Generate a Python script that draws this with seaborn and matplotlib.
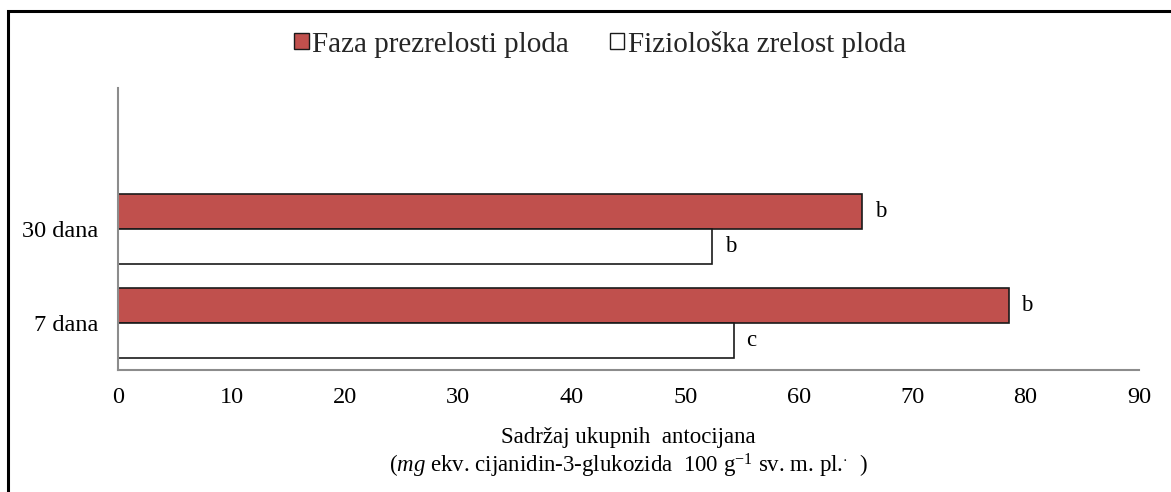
import matplotlib
matplotlib.use("Agg")
import matplotlib.pyplot as plt
import seaborn as sns
import pandas as pd
from matplotlib.patches import Rectangle, Patch

# Data
categories = ["30 dana", "7 dana"]
series_names = ["Faza prezrelosti ploda", "Fiziološka zrelost ploda"]
prezrelost = [65.6, 78.5]
zrelost = [52.4, 54.3]
letters_prezrelost = ["b", "b"]
letters_zrelost = ["b", "c"]
x_ticks = [0, 10, 20, 30, 40, 50, 60, 70, 80, 90]

sns.set_theme(style="white")
plt.rcParams["font.family"] = ["Liberation Serif", "DejaVu Serif"]
plt.rcParams["mathtext.fontset"] = "custom"
plt.rcParams["mathtext.rm"] = "Liberation Serif"
plt.rcParams["mathtext.it"] = "Liberation Serif:italic"

df = pd.DataFrame({
    "cat": categories * 2,
    "series": [series_names[0]] * 2 + [series_names[1]] * 2,
    "value": prezrelost + zrelost,
})

fig = plt.figure(figsize=(11.71, 4.92), dpi=100)
ax = fig.add_axes([118 / 1171, (492 - 370) / 492, 1021 / 1171, 282 / 492])

palette = {series_names[0]: "#C0504D", series_names[1]: "#FFFFFF"}
sns.barplot(data=df, y="cat", x="value", hue="series", order=categories,
            hue_order=series_names, palette=palette, orient="h", width=0.75,
            edgecolor="#1a1a1a", linewidth=1.2, saturation=1, ax=ax, legend=False)

ax.set_ylim(1.5, -1.5)
ax.set_xlim(0, 90)
ax.set_xticks(x_ticks)
ax.set_xticklabels([str(t) for t in x_ticks], fontsize=17.5)
ax.tick_params(axis="y", labelsize=17.5, length=0, pad=14)
ax.tick_params(axis="x", length=0, pad=12)
ax.set_ylabel("")
ax.set_xlabel("Sadržaj ukupnih  antocijana\n"
              r"($\it{mg}$ ekv. cijanidin-3-glukozida  100 g$^{-1}$ sv. m. pl.$^{\cdot}$  )",
              fontsize=16.5, linespacing=1.2, labelpad=14)
ax.xaxis.label.set_color("black")
for lab in ax.get_xticklabels() + ax.get_yticklabels():
    lab.set_color("black")

for s in ["top", "right"]:
    ax.spines[s].set_visible(False)
for s in ["left", "bottom"]:
    ax.spines[s].set_color("#8c8c8c")
    ax.spines[s].set_linewidth(1.5)

# Letters next to bars
bar_h = 0.375
for i in range(len(categories)):
    ax.text(prezrelost[i] + 1.1, i - bar_h / 2, letters_prezrelost[i],
            va="center", ha="left", fontsize=16.5, color="black")
    ax.text(zrelost[i] + 1.1, i + bar_h / 2, letters_zrelost[i],
            va="center", ha="left", fontsize=16.5, color="black")

# Legend
handles = [Patch(facecolor="#C0504D", edgecolor="#1a1a1a", linewidth=1.0),
           Patch(facecolor="#FFFFFF", edgecolor="#1a1a1a", linewidth=1.0)]
fig.legend(handles, series_names, loc="center", bbox_to_anchor=(600 / 1171, 1 - 44 / 492),
           ncol=2, frameon=False, fontsize=21, handlelength=0.5, handleheight=0.5,
           handletextpad=0.12, columnspacing=1.4)

# Figure frame
fig.patches.append(Rectangle((7.5 / 1171, -0.1), 1.2, 1 - 11 / 492 + 0.1,
                             transform=fig.transFigure, fill=False,
                             edgecolor="black", linewidth=2.2))

fig.savefig("out.png", dpi=100)
